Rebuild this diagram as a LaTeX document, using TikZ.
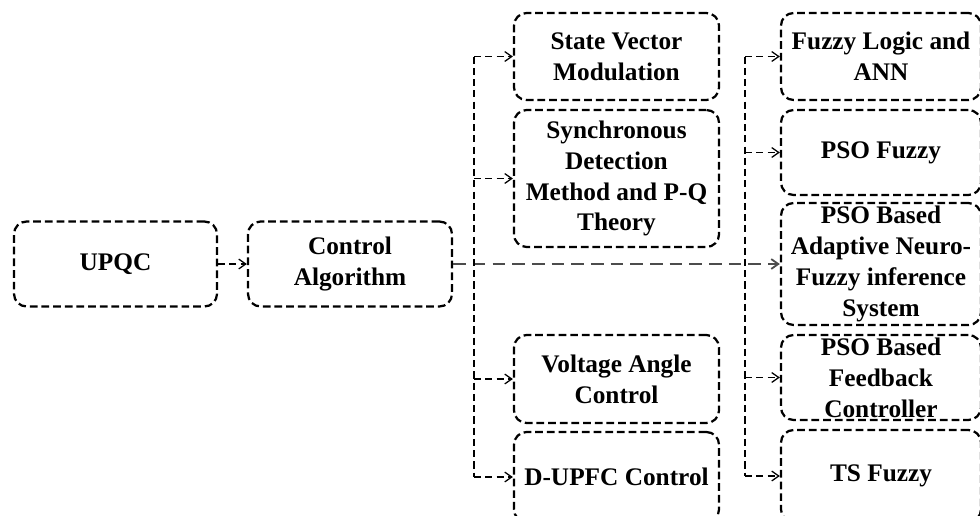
\documentclass[tikz,border=0pt]{standalone}
\usepackage{fontspec}
\setmainfont{Liberation Serif}
\usetikzlibrary{arrows.meta}

\begin{document}
\begin{tikzpicture}[x=0.025cm,y=-0.025cm]
\useasboundingbox (0,0) rectangle (980,515);
\clip (0,0) rectangle (980,515);
\begin{scope}[every node/.style={draw,line width=1.6pt,dash pattern=on 5.5pt off 2.8pt,
              rounded corners=9pt,align=center,inner sep=0pt,
              font=\fontsize{18}{22}\selectfont\bfseries}]
    \node[minimum width=5.075cm,minimum height=2.125cm] (upqc) at (115.5,264) {UPQC};
    \node[minimum width=5.1cm,minimum height=2.125cm] (ctrl) at (350,264) {Control\\Algorithm};
    \node[minimum width=5.125cm,minimum height=2.175cm] (svm) at (616.5,56.5) {State Vector\\Modulation};
    \node[minimum width=5.125cm,minimum height=3.425cm] (sdm) at (616.5,178.5) {Synchronous\\Detection\\Method and P-Q\\Theory};
    \node[minimum width=5.125cm,minimum height=2.2cm] (vac) at (616.5,379) {Voltage Angle\\Control};
    \node[minimum width=5.125cm,minimum height=2.25cm] (dupfc) at (616.5,477) {D-UPFC Control};
    \node[minimum width=5.0cm,minimum height=2.175cm] (fla) at (881,56.5) {Fuzzy Logic and\\ANN};
    \node[minimum width=5.0cm,minimum height=2.125cm] (psof) at (881,152.5) {PSO Fuzzy};
    \node[minimum width=5.0cm,minimum height=3.05cm] (anfis) at (881,264) {PSO Based\\Adaptive Neuro-\\Fuzzy inference\\System};
    \node[minimum width=5.0cm,minimum height=2.125cm] (fbc) at (881,377.5) {PSO Based\\Feedback\\Controller};
    \node[minimum width=5.0cm,minimum height=2.3cm] (tsf) at (881,476) {TS Fuzzy};
\end{scope}
\coordinate (mt) at (474,0);
\coordinate (rt) at (745,0);
\begin{scope}[>={Straight Barb[length=5pt,width=7pt]},
              thin_edge/.style={draw=black,line width=0.9pt,dash pattern=on 5pt off 3pt},
              main_edge/.style={draw=black!70,line width=1.3pt,dash pattern=on 9pt off 5pt}]
    \path [->] (upqc) edge [thin_edge] (ctrl);
    \path [->] (ctrl) edge [main_edge] (anfis);
    % middle column
    \path (mt |- svm) edge [thin_edge] (mt |- dupfc);
    \path [->] (mt |- svm) edge [thin_edge] (svm);
    \path [->] (mt |- sdm) edge [thin_edge] (sdm);
    \path [->] (mt |- vac) edge [thin_edge] (vac);
    \path [->] (mt |- dupfc) edge [thin_edge] (dupfc);
    % right column
    \path (rt |- fla) edge [thin_edge] (rt |- tsf);
    \path [->] (rt |- fla) edge [thin_edge] (fla);
    \path [->] (rt |- psof) edge [thin_edge] (psof);
    \path [->] (rt |- fbc) edge [thin_edge] (fbc);
    \path [->] (rt |- tsf) edge [thin_edge] (tsf);
\end{scope}
\end{tikzpicture}
\end{document}
